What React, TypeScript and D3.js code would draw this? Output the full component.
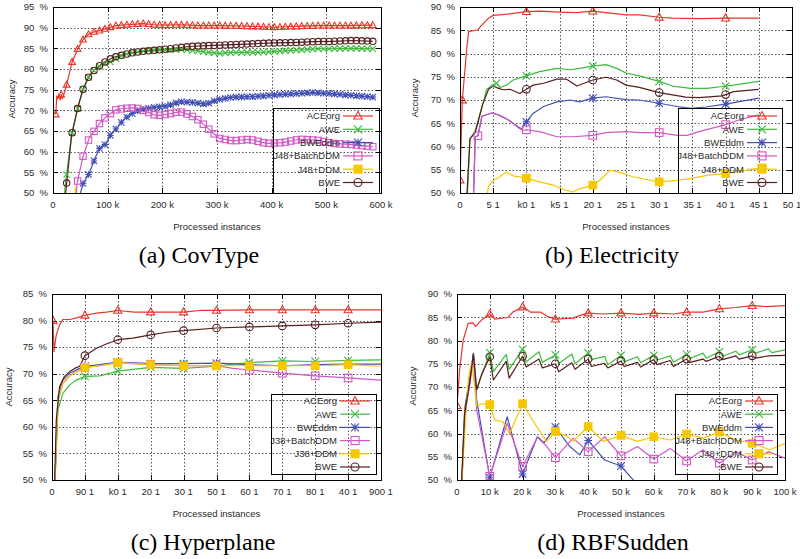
import React from 'react';
import * as d3 from 'd3';

type Pt = [number, number];

// legend entries, colours and marker shapes (same order in every panel)
const seriesNames = ['ACEorg', 'AWE', 'BWEddm', 'J48+BatchDDM', 'J48+DDM', 'BWE'];
const seriesNamesHyper = ['ACEorg', 'AWE', 'BWEddm', 'J38+BatchDDM', 'J38+DDM', 'BWE'];
const seriesColors = ['#e8362a', '#3dbb3d', '#4451b4', '#d257c4', '#f6c800', '#561e1e'];
const seriesShapes = ['triangle', 'times', 'star', 'square', 'filledSquare', 'circle'];

// x tick values / labels
const covTicks = [0, 100, 200, 300, 400, 500, 600];
const covTickLabels = ['0', '100 k', '200 k', '300 k', '400 k', '500 k', '600 k'];
const elecTicks = [0, 5, 10, 15, 20, 25, 30, 35, 40, 45, 50];
const elecTickLabels = ['0', '5 1', 'k0 1', 'k5 1', '20 1', '25 1', '30 1', '35 1', '40 1', '45 1', '50 1'];
const hypTicks = [0, 1, 2, 3, 4, 5, 6, 7, 8, 9, 10];
const hypTickLabels = ['0', '90 1', 'k0 1', '20 1', '30 1', '50 1', '60 1', '70 1', '80 1', '40 1', '900 1'];
const rbfTicks = [0, 10, 20, 30, 40, 50, 60, 70, 80, 90, 100];
const rbfTickLabels = ['0', '10 k', '20 k', '30 k', '40 k', '50 k', '60 k', '70 k', '80 k', '90 k', '100 k'];

// (a) CovType, x in thousands
const covAce: Pt[] = [[5, 69], [7, 73.5], [9, 72.8], [11, 74], [13, 72.5], [15, 73.8], [17, 72.8], [19, 73.5], [25, 76.2], [35, 81.7], [45, 84.8], [55, 87.1], [65, 88.4], [75, 89], [85, 89.3], [95, 89.7], [105, 90.1], [115, 90.5], [135, 90.7], [165, 91.0], [185, 90.7], [205, 90.6], [235, 90.7], [265, 90.5], [305, 90.5], [345, 90.4], [385, 90.2], [405, 90.1], [445, 90.3], [485, 90.5], [535, 90.5], [585, 90.6]];
const covAwe: Pt[] = [[20, 46], [22, 51.3], [34, 64], [46, 71], [55, 75.1], [66, 78.3], [76, 79.8], [85, 80.6], [96, 81.4], [107, 81.8], [116, 82.6], [128, 83.4], [140, 83.8], [159, 84.2], [177, 84.5], [207, 84.6], [232, 84.8], [256, 84.5], [280, 84.1], [305, 83.8], [329, 84.0], [354, 84.0], [390, 84.1], [421, 84.4], [451, 84.6], [488, 84.9], [512, 84.9], [543, 85.0], [585, 84.9]];
const covBwedd: Pt[] = [[46, 48], [55, 52.3], [66, 54.7], [76, 58.1], [85, 60.8], [96, 61.8], [107, 64.4], [116, 65.6], [128, 67.6], [140, 68.9], [159, 70.1], [183, 70.7], [207, 71], [232, 72.1], [256, 71.9], [280, 71.5], [299, 72.5], [329, 73.2], [366, 73.3], [402, 73.7], [439, 74], [476, 74.3], [512, 74], [549, 73.6], [585, 73.2]];
const covBatch: Pt[] = [[42, 48], [44, 52.3], [55, 58.9], [66, 63.2], [76, 65.1], [85, 66.8], [96, 68.3], [107, 69.4], [116, 70.2], [134, 70.5], [152, 70.6], [171, 69.7], [189, 68.7], [207, 69], [232, 69.7], [250, 68.9], [268, 67.5], [287, 65.2], [305, 63.2], [329, 62.6], [360, 63], [390, 62], [421, 62.2], [451, 63], [482, 62.8], [512, 62], [549, 61.7], [585, 61.2]];
const covDdm: Pt[] = [[39, 45], [41, 51.5], [43, 45]];
const covBwe: Pt[] = [[20, 46], [24, 51.1], [34, 64], [46, 71], [55, 75.1], [66, 78.3], [76, 79.8], [85, 80.8], [96, 81.8], [107, 82.6], [116, 83], [128, 83.4], [140, 83.8], [159, 84.2], [183, 84.5], [207, 84.8], [232, 85.2], [256, 85.5], [293, 85.7], [329, 85.9], [366, 86.1], [402, 86.3], [439, 86.4], [476, 86.6], [512, 86.7], [549, 86.9], [585, 86.7]];

// (b) Electricity, x in tick units
const elecAce: Pt[] = [[0, 52.8], [0.35, 70], [1.0, 80.8], [1.3, 84.7], [2.7, 85.1], [3.2, 86], [4.3, 87.6], [5, 88.2], [6.8, 88.4], [8.3, 88.7], [10, 89.0], [12, 89.1], [15, 88.9], [17.6, 88.8], [20, 89.1], [22, 88.8], [25, 88.3], [27, 88.3], [30, 87.8], [32, 87.6], [36, 87.5], [40, 87.6], [45, 87.6]];
const elecAwe: Pt[] = [[1.0, 46], [1.5, 61.5], [2.3, 63.5], [2.8, 66], [3.5, 69.5], [4.0, 72.2], [4.8, 73.2], [5.5, 73.6], [6, 72.7], [7, 73.2], [8, 74.3], [10, 75.2], [12, 76.1], [14.6, 76.8], [16.6, 76.5], [18, 76.8], [20, 77.3], [22, 77.6], [23.6, 76.8], [25, 75.8], [27, 75.2], [30, 74], [32, 73], [34.7, 72.5], [37.2, 72.5], [39.5, 72.9], [41.2, 73.2], [45, 74]];
const elecBwedd: Pt[] = [[2.0, 48], [2.3, 62.1], [2.7, 62.3], [3.3, 66.5], [4.8, 67.2], [5.8, 66.8], [7.3, 65.7], [8.8, 64.2], [9.3, 63.8], [10, 65.3], [11, 67.1], [12.6, 68.6], [14.6, 69.6], [16.6, 70], [18, 69.6], [20, 70.4], [22, 70.7], [25, 70.1], [27, 70], [30, 69.3], [32.7, 68.6], [34.7, 68.2], [37, 68.5], [40, 69.1], [45, 70.4]];
const elecBatch: Pt[] = [[2.0, 48], [2.3, 62.1], [2.7, 62.3], [3.3, 66.5], [4.8, 67.2], [5.8, 66.8], [7.3, 65.7], [8.8, 64], [9.5, 63.5], [10, 63.6], [12, 63.2], [14.6, 62.1], [17, 62.1], [20, 62.4], [22, 63], [25, 63.2], [27, 63], [30, 63], [32.7, 62.4], [34.2, 62.4], [36, 63.2], [40, 64.7], [42.2, 65.8], [45, 66.8]];
const elecDdm: Pt[] = [[4.0, 49], [4.3, 51.5], [5, 52.7], [6, 53.5], [7, 54.5], [8, 53.7], [10, 53.2], [12, 52.4], [14, 51.7], [16, 50.6], [17, 50.2], [18, 50.9], [20, 51.7], [21, 52.7], [22.6, 54.9], [24, 54.5], [26, 53.5], [30, 52.4], [32.7, 52.7], [34.7, 53.1], [37.2, 53.8], [40, 54.2], [45.5, 55.4]];
const elecBwe: Pt[] = [[0.9, 46], [1.5, 61.7], [2.3, 63], [2.8, 65.7], [3.4, 69], [4.3, 72.3], [5, 73], [5.8, 72.5], [6.5, 72.2], [7.5, 72.3], [9, 71.4], [10, 72.3], [11, 73.2], [12.6, 73.6], [14.6, 74.5], [16, 74.5], [17.6, 73], [20, 74.3], [22, 74.9], [23.6, 74.3], [25, 73.2], [27, 72.7], [30, 71.6], [32, 71.1], [34, 70.6], [36, 70.5], [39.5, 70.9], [41.2, 71.8], [45, 72.3]];

// (c) Hyperplane, x in tick units
const hypAce: Pt[] = [[0.03, 80], [0.06, 74.2], [0.13, 77.3], [0.23, 79.2], [0.33, 80.2], [0.54, 80.2], [0.74, 80.5], [1, 81], [1.35, 81.4], [1.65, 81.6], [2, 81.9], [2.5, 81.6], [3, 81.6], [4, 81.6], [4.5, 81.9], [5, 81.9], [6, 82], [7, 82], [8, 82], [9, 82], [10, 82]];
const hypAwe: Pt[] = [[0.06, 45], [0.18, 63.2], [0.33, 66.3], [0.54, 67.9], [0.74, 68.8], [1, 69.5], [1.45, 69.6], [2, 70.5], [2.46, 70.8], [3, 71.2], [4, 71], [5, 71.4], [5.5, 71.8], [6, 72.1], [7, 72.4], [8, 72.3], [9, 72.5], [10, 72.6]];
const hypBwedd: Pt[] = [[0.06, 45], [0.18, 65.7], [0.33, 68.8], [0.54, 70.1], [0.84, 71], [1, 71.4], [1.45, 71.7], [2, 72.2], [3, 71.9], [4, 71.9], [5, 72], [6, 71.7], [7, 71.5], [8, 71.7], [9, 71.8], [10, 71.8]];
const hypBatch: Pt[] = [[0.06, 45], [0.18, 65], [0.33, 68.2], [0.54, 69.6], [0.84, 70.7], [1, 71.2], [1.45, 71.5], [2, 72.1], [3, 71.7], [4, 71.5], [5, 71.5], [5.5, 71], [6, 70.7], [7, 70.1], [8, 69.6], [9, 69.2], [10, 68.8]];
const hypDdm: Pt[] = [[0.06, 45], [0.18, 65], [0.33, 68.2], [0.54, 69.6], [0.84, 70.7], [1, 71.2], [1.45, 71.5], [2, 72.1], [3, 71.7], [4, 71.5], [5, 71.5], [6, 71.5], [7, 71.5], [8, 71.5], [9, 71.7], [10, 71.4]];
const hypBwe: Pt[] = [[0.06, 45], [0.13, 61.3], [0.23, 67.6], [0.38, 69.5], [0.54, 70.4], [0.69, 71], [0.84, 71.4], [1, 73.4], [1.35, 74.8], [1.65, 75.6], [2, 76.4], [2.46, 76.7], [3, 77.3], [3.48, 77.8], [4, 78.1], [5, 78.6], [6, 78.8], [7, 79], [8, 79.2], [9, 79.5], [10, 79.7]];

// (d) RBFSudden, x in thousands
const rbfAce: Pt[] = [[0, 66], [0.8, 73.7], [1.9, 80.1], [3.4, 83.7], [4.9, 83.8], [5.6, 83], [7.5, 84.4], [10, 85.7], [11.5, 84.6], [15.6, 85], [17, 86.1], [20, 87.2], [22.5, 86.1], [25.5, 86.1], [27.5, 85.2], [30, 84.6], [35.4, 84.8], [38, 85.5], [40, 85.9], [44.6, 85.7], [50, 85.9], [55.7, 85.6], [60, 85.9], [66, 85.7], [70, 86.1], [75, 86.1], [80, 86.8], [85, 87.1], [90, 87.5], [94.4, 87.3], [100, 87.5]];
const rbfAwe: Pt[] = [[1.2, 45], [2.3, 65], [3.9, 72], [5, 77.2], [6, 69.4], [7.4, 72.3], [10, 77.4], [11.1, 73.3], [15, 77], [15.9, 73.8], [20, 78.1], [21.1, 75.4], [25, 77.6], [26, 75.3], [30, 76.9], [31, 75], [35, 77.1], [36, 75], [40, 77.3], [41, 75.9], [45, 76.6], [46, 74.8], [50, 76.8], [51, 75.4], [55, 76.5], [56, 75.2], [60, 76.8], [61, 75.8], [65, 76.7], [66, 75.3], [70, 77], [71, 76.1], [75, 77.3], [76, 76.2], [80, 77.6], [81, 76.6], [85, 77.7], [86, 76.9], [90, 78], [91, 77.3], [95, 78.2], [96, 77.4], [100, 78]];
const rbfBwedd: Pt[] = [[1.2, 45], [2.5, 66], [4, 72], [5, 77], [6, 67.2], [10, 50.5], [15.3, 63.6], [20, 51.3], [24.5, 59.3], [26.5, 58], [30, 61.4], [34.4, 57.2], [37.4, 55.4], [40, 58.5], [45, 54.3], [50, 53], [55, 49], [58, 46]];
const rbfBatch: Pt[] = [[1.2, 45], [2.5, 65], [4, 71], [5, 76.5], [6, 65.1], [10, 50.8], [15.3, 62.2], [20, 52.9], [24.5, 59.2], [27, 57.5], [30, 54.8], [35.4, 59], [40, 56.1], [45, 59.3], [50, 55.2], [55, 57.2], [60, 54.5], [65, 56.8], [70, 54.1], [75, 56.5], [80, 53.6], [85, 56.1], [90, 54.3], [95, 56.1], [100, 54.7]];
const rbfDdm: Pt[] = [[1.1, 45], [2.5, 62], [3.5, 72], [4.5, 75.4], [6, 66.1], [8, 66.4], [10, 66.2], [11.5, 62.9], [14, 62.5], [16, 60], [20, 66.4], [23, 62.9], [27.3, 58.3], [30, 60.4], [33.4, 59.5], [35.4, 58.3], [40, 61.5], [44.6, 58.3], [50, 59.6], [55, 58.3], [60, 59.3], [65, 58.6], [70, 59.9], [75, 59], [80, 60.3], [85, 58.6], [90, 57.9], [95.4, 56.5], [100, 57.9]];
const rbfBwe: Pt[] = [[1.1, 45], [2.3, 64], [3.9, 71], [5, 77.2], [6, 69.4], [7.4, 72.5], [10, 76.5], [11.1, 71.5], [15, 75.5], [15.9, 71.9], [20, 76.6], [21.1, 74.3], [25, 76], [26, 74.1], [30, 75], [31, 73.3], [35, 75.2], [36, 73.8], [40, 76], [41, 74.4], [45, 75.1], [46, 74.1], [50, 75.6], [51, 74.4], [55, 75.3], [56, 74.3], [60, 75.9], [61, 74.8], [65, 75.7], [66, 74.4], [70, 76], [71, 75.3], [75, 76], [76, 75.5], [80, 76.6], [81, 75.9], [85, 76.7], [86, 76], [90, 76.7], [91, 76.2], [95, 76.7], [100, 76.8]];

// x positions of the point markers, one list per series
const covGrid = d3.range(5, 590, 10);
const covMarks = [covGrid, covGrid, covGrid, covGrid, covGrid, covGrid];
const elecMarks = [[0, 0.35, 10, 20, 30, 40], [5.5, 10, 20, 30, 40], [10, 20, 30, 40], [2.7, 10, 20, 30, 40], [10, 20, 30, 40, 45.5], [10, 20, 30, 40]];
const hypMarks = [[0.03, 1, 2, 3, 4, 5, 6, 7, 8, 9], [1, 2, 3, 4, 5, 6, 7, 8, 9], [1, 2, 3, 4, 5, 6, 7, 8, 9], [1, 2, 3, 4, 5, 6, 7, 8, 9], [1, 2, 3, 4, 5, 6, 7, 8, 9], [1, 2, 3, 4, 5, 6, 7, 8, 9]];
const rbfMarks = [[0, 10, 20, 30, 40, 50, 60, 70, 80, 90], [10, 20, 30, 40, 50, 60, 70, 80, 90], [10, 20, 30, 40, 50, 60, 70, 80, 90], [10, 20, 30, 40, 50, 60, 70, 80, 90], [10, 20, 30, 40, 50, 60, 70, 80, 90], [10, 20, 30, 40, 50, 60, 70, 80, 90]];

const FONT = '"Liberation Sans", Arial, sans-serif';
const TXT = '#2a2a2a';

const valueAt = (data: Pt[], xv: number) => {
  const i = d3.bisector((d: Pt) => d[0]).left(data, xv);
  if (i <= 0) return data[0][1];
  if (i >= data.length) return data[data.length - 1][1];
  const a = data[i - 1], b = data[i];
  const t = (xv - a[0]) / (b[0] - a[0]);
  return a[1] + t * (b[1] - a[1]);
};

const Marker = ({ shape, x, y, h, color }: any) => {
  const sw = 1.1;
  if (shape === 'circle') return <circle cx={x} cy={y} r={h} fill="none" stroke={color} strokeWidth={sw} />;
  if (shape === 'square') return <rect x={x - h} y={y - h} width={2 * h} height={2 * h} fill="none" stroke={color} strokeWidth={sw} />;
  if (shape === 'filledSquare') return <rect x={x - h} y={y - h} width={2 * h} height={2 * h} fill={color} stroke={color} strokeWidth={sw} />;
  let d = '';
  if (shape === 'triangle') d = `M${x},${y - h * 1.1}L${x + h * 1.05},${y + h * 0.75}L${x - h * 1.05},${y + h * 0.75}Z`;
  if (shape === 'times' || shape === 'star') d = `M${x - h},${y - h}L${x + h},${y + h}M${x - h},${y + h}L${x + h},${y - h}`;
  if (shape === 'star') d += `M${x - h},${y}L${x + h},${y}M${x},${y - h}L${x},${y + h}`;
  return <path d={d} fill="none" stroke={color} strokeWidth={sw} />;
};

const Panel = ({ p }: any) => {
  const x = d3.scaleLinear().domain([0, p.xMax]).range([p.left, p.right]);
  const y = d3.scaleLinear().domain([p.yMin, p.yMax]).range([p.bottom, p.top]);
  const line = d3.line<Pt>().x(d => x(d[0])).y(d => y(d[1]));
  const yTicks = d3.range(p.yMin, p.yMax + 1, 5);
  const clipId = 'clip-' + p.id;
  const L = p.legend;
  return (
    <g>
      <defs>
        <clipPath id={clipId}>
          <rect x={p.left} y={p.top} width={p.right - p.left} height={p.bottom - p.top} />
        </clipPath>
      </defs>
      {yTicks.map(v => (
        <g key={'y' + v}>
          <line x1={p.left} x2={p.right} y1={Math.round(y(v)) + 0.5} y2={Math.round(y(v)) + 0.5} stroke="#555" strokeDasharray="1.5,2" />
          <line x1={p.left} x2={p.left + 5} y1={Math.round(y(v)) + 0.5} y2={Math.round(y(v)) + 0.5} stroke="#000" />
          <line x1={p.right - 5} x2={p.right} y1={Math.round(y(v)) + 0.5} y2={Math.round(y(v)) + 0.5} stroke="#000" />
          <text x={p.left - 5} y={y(v)} dy="0.35em" textAnchor="end" fontSize={9.5} fill={TXT} fontFamily={FONT} style={{ whiteSpace: 'pre' }}>{`${v}  %`}</text>
        </g>
      ))}
      {p.xTicks.map((v: number, i: number) => (
        <g key={'x' + v}>
          <line x1={Math.round(x(v)) + 0.5} x2={Math.round(x(v)) + 0.5} y1={p.top} y2={p.bottom} stroke="#555" strokeDasharray="1.5,2" />
          <line x1={Math.round(x(v)) + 0.5} x2={Math.round(x(v)) + 0.5} y1={p.bottom - 5} y2={p.bottom} stroke="#000" />
          <line x1={Math.round(x(v)) + 0.5} x2={Math.round(x(v)) + 0.5} y1={p.top} y2={p.top + 5} stroke="#000" />
          <text x={x(v)} y={p.bottom + 15} textAnchor="middle" fontSize={9.5} fill={TXT} fontFamily={FONT}>{p.xLabels[i]}</text>
        </g>
      ))}
      <g clipPath={`url(#${clipId})`}>
        {p.series.map((s: Pt[], i: number) => (
          <path key={'l' + i} d={line(s) || ''} fill="none" stroke={seriesColors[i]} strokeWidth={1.2} strokeLinejoin="round" />
        ))}
        {p.series.map((s: Pt[], i: number) => {
          const xs: number[] = p.marks[i].filter((m: number) => m >= s[0][0] && m <= s[s.length - 1][0]);
          return xs.map((m, j) => {
            const v = valueAt(s, m);
            if (v < p.yMin) return null;
            return <Marker key={'m' + i + '-' + j} shape={seriesShapes[i]} x={x(m)} y={y(v)} h={p.mh} color={seriesColors[i]} />;
          });
        })}
      </g>
      <rect x={p.left + 0.5} y={p.top + 0.5} width={p.right - p.left} height={p.bottom - p.top} fill="none" stroke="#000" strokeWidth={1} />
      <rect x={L.x0 + 0.5} y={L.y0 + 0.5} width={L.x1 - L.x0} height={L.y1 - L.y0} fill="none" stroke="#000" strokeWidth={1} />
      {p.names.map((n: string, i: number) => {
        const ry = L.row0 + i * L.step;
        return (
          <g key={'lg' + i}>
            <text x={L.tx} y={ry} dy="0.35em" textAnchor="end" fontSize={9.5} fill={TXT} fontFamily={FONT}>{n}</text>
            <line x1={L.lx0} x2={L.lx1} y1={ry} y2={ry} stroke={seriesColors[i]} strokeWidth={1.2} />
            <Marker shape={seriesShapes[i]} x={(L.lx0 + L.lx1) / 2} y={ry} h={4} color={seriesColors[i]} />
          </g>
        );
      })}
      <text transform={`translate(${p.ylx},${p.yly}) rotate(-90)`} textAnchor="middle" fontSize={9.5} fill={TXT} fontFamily={FONT}>Accuracy</text>
      <text x={(p.left + p.right) / 2} y={p.bottom + 37} textAnchor="middle" fontSize={9.5} fill={TXT} fontFamily={FONT}>Processed instances</text>
      <text x={p.capX} y={p.bottom + 70} textAnchor="middle" fontSize={24} fill="#000" fontFamily='"Liberation Serif", "Times New Roman", serif'>{p.caption}</text>
    </g>
  );
};

const panels = [
  {
    id: 'a', left: 53, right: 381, top: 7, bottom: 193, yMin: 50, yMax: 95, xMax: 600,
    xTicks: covTicks, xLabels: covTickLabels, names: seriesNames,
    series: [covAce, covAwe, covBwedd, covBatch, covDdm, covBwe], marks: covMarks, mh: 3.2,
    legend: { x0: 273, x1: 379, y0: 108, y1: 193, tx: 340, lx0: 343, lx1: 373, row0: 116, step: 13.3 },
    ylx: 15, yly: 99, capX: 199, caption: '(a) CovType',
  },
  {
    id: 'b', left: 460, right: 792, top: 7, bottom: 193, yMin: 50, yMax: 90, xMax: 50,
    xTicks: elecTicks, xLabels: elecTickLabels, names: seriesNames,
    series: [elecAce, elecAwe, elecBwedd, elecBatch, elecDdm, elecBwe], marks: elecMarks, mh: 3.8,
    legend: { x0: 678, x1: 782, y0: 108, y1: 193, tx: 744, lx0: 747, lx1: 777, row0: 116, step: 13.3 },
    ylx: 418, yly: 98, capX: 612, caption: '(b) Electricity',
  },
  {
    id: 'c', left: 52, right: 381, top: 294, bottom: 480, yMin: 50, yMax: 85, xMax: 10,
    xTicks: hypTicks, xLabels: hypTickLabels, names: seriesNamesHyper,
    series: [hypAce, hypAwe, hypBwedd, hypBatch, hypDdm, hypBwe], marks: hypMarks, mh: 3.8,
    legend: { x0: 271, x1: 376, y0: 394, y1: 474, tx: 337, lx0: 340, lx1: 370, row0: 401, step: 13.2 },
    ylx: 12, yly: 387, capX: 203, caption: '(c) Hyperplane',
  },
  {
    id: 'd', left: 457, right: 785, top: 294, bottom: 480, yMin: 50, yMax: 90, xMax: 100,
    xTicks: rbfTicks, xLabels: rbfTickLabels, names: seriesNames,
    series: [rbfAce, rbfAwe, rbfBwedd, rbfBatch, rbfDdm, rbfBwe], marks: rbfMarks, mh: 3.8,
    legend: { x0: 675, x1: 777, y0: 394, y1: 474, tx: 742, lx0: 745, lx1: 773, row0: 401, step: 13.2 },
    ylx: 416, yly: 386, capX: 613, caption: '(d) RBFSudden',
  },
];

export default function App() {
  return (
    <svg width={800} height={559} style={{ position: 'absolute', left: 0, top: 0, background: '#fff' }}>
      <rect width={800} height={559} fill="#fff" />
      {panels.map(p => <Panel key={p.id} p={p} />)}
    </svg>
  );
}
